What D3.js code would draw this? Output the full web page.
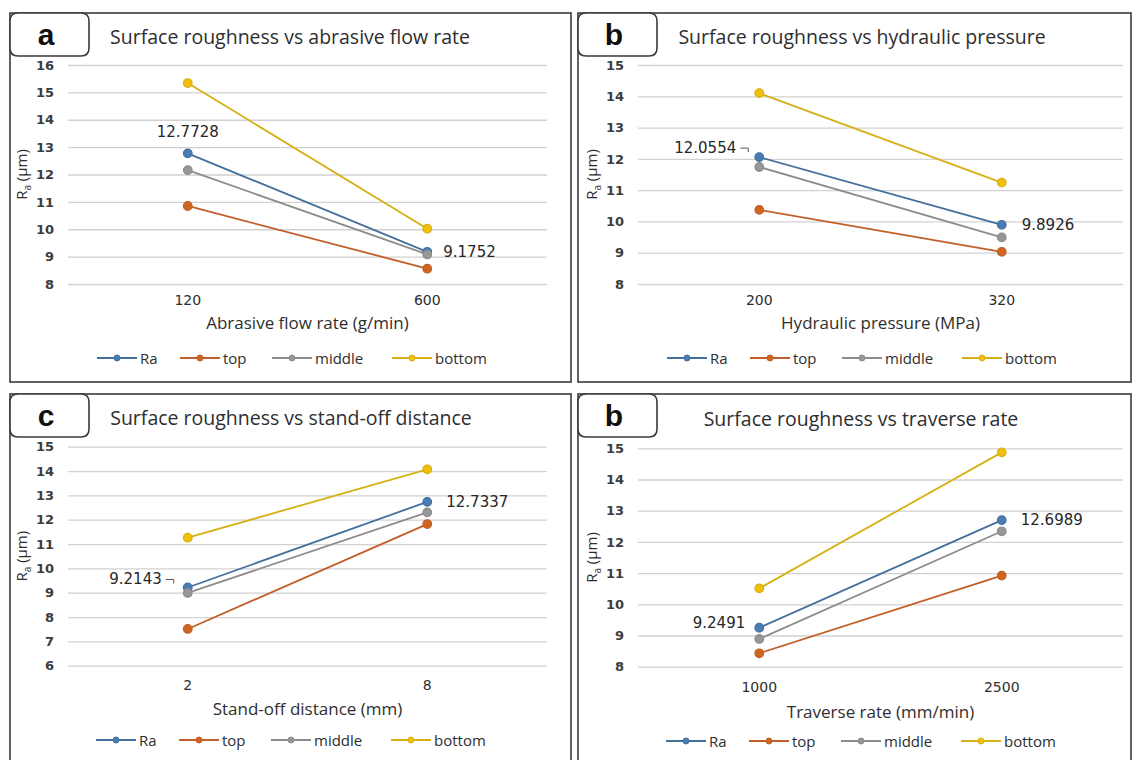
<!DOCTYPE html>
<html>
<head>
<meta charset="utf-8">
<script src="https://cdn.jsdelivr.net/npm/d3@7"></script>
<style>
  body { margin: 0; background: #fff; }
  svg { display: block; }
</style>
</head>
<body>
<svg id="fig" width="1134" height="760"></svg>
<script>
// ---- series ----
const seriesNames = ["Ra", "top", "middle", "bottom"];
const seriesLine = ["#44709d", "#c25e27", "#8c8c8c", "#d6b014"];
const seriesFill = ["#4a7db3", "#d0651f", "#979797", "#f0c00a"];

// (a) abrasive flow rate
const flowCats = ["120", "600"];
const flowRa = [12.7728, 9.1752];
const flowTop = [10.85, 8.56];
const flowMiddle = [12.16, 9.08];
const flowBottom = [15.34, 10.02];
const flowTicks = [8, 9, 10, 11, 12, 13, 14, 15, 16];

// (b) hydraulic pressure
const pressureCats = ["200", "320"];
const pressureRa = [12.0554, 9.8926];
const pressureTop = [10.37, 9.03];
const pressureMiddle = [11.74, 9.49];
const pressureBottom = [14.10, 11.24];
const pressureTicks = [8, 9, 10, 11, 12, 13, 14, 15];

// (c) stand-off distance
const standoffCats = ["2", "8"];
const standoffRa = [9.2143, 12.7337];
const standoffTop = [7.51, 11.82];
const standoffMiddle = [8.99, 12.30];
const standoffBottom = [11.26, 14.07];
const standoffTicks = [6, 7, 8, 9, 10, 11, 12, 13, 14, 15];

// (d) traverse rate
const traverseCats = ["1000", "2500"];
const traverseRa = [9.2491, 12.6989];
const traverseTop = [8.43, 10.92];
const traverseMiddle = [8.89, 12.34];
const traverseBottom = [10.51, 14.87];
const traverseTicks = [8, 9, 10, 11, 12, 13, 14, 15];

const panelLetters = ["a", "b", "c", "b"];
const panelTitles = [
  "Surface roughness vs abrasive flow rate",
  "Surface roughness vs hydraulic pressure",
  "Surface roughness vs stand-off distance",
  "Surface roughness vs traverse rate"
];
const xTitles = [
  "Abrasive flow rate (g/min)",
  "Hydraulic pressure (MPa)",
  "Stand-off distance (mm)",
  "Traverse rate (mm/min)"
];

const panels = [
  { cats: flowCats, series: [flowRa, flowTop, flowMiddle, flowBottom], ticks: flowTicks },
  { cats: pressureCats, series: [pressureRa, pressureTop, pressureMiddle, pressureBottom], ticks: pressureTicks },
  { cats: standoffCats, series: [standoffRa, standoffTop, standoffMiddle, standoffBottom], ticks: standoffTicks },
  { cats: traverseCats, series: [traverseRa, traverseTop, traverseMiddle, traverseBottom], ticks: traverseTicks }
];

// ---- layout of each panel (page pixels) ----
const layouts = [
  { fx: 10, fy: 13, fw: 561, fh: 369, x0: 68, x1: 547, y0: 65, y1: 284,
    tickY: 305, axisTitleY: 329, legendY: 358, legendX: 97, titleX: 290, titleY: 44,
    labels: [{ pos: "above", dx: 0, dy: -16 }, { pos: "right", dx: 16, dy: 0 }] },
  { fx: 578, fy: 13, fw: 553, fh: 369, x0: 638, x1: 1123, y0: 65, y1: 284,
    tickY: 305, axisTitleY: 329, legendY: 358, legendX: 667, titleX: 862, titleY: 44,
    labels: [{ pos: "left", dx: -17, dy: -9, leader: true }, { pos: "right", dx: 20, dy: 0 }] },
  { fx: 10, fy: 394, fw: 561, fh: 380, x0: 68, x1: 547, y0: 446.7, y1: 665.7,
    tickY: 690, axisTitleY: 715, legendY: 740, legendX: 96, titleX: 291, titleY: 425,
    labels: [{ pos: "left", dx: -20, dy: -8, leader: true }, { pos: "right", dx: 19, dy: 0 }] },
  { fx: 578, fy: 394, fw: 553, fh: 380, x0: 638, x1: 1123, y0: 448.3, y1: 666.7,
    tickY: 692, axisTitleY: 718, legendY: 741, legendX: 666, titleX: 861, titleY: 426,
    labels: [{ pos: "left", dx: -14, dy: -5 }, { pos: "right", dx: 19, dy: 0 }] }
];
const legendOffsets = [0, 83, 175, 295];

const svg = d3.select("#fig");
svg.append("rect").attr("width", 1134).attr("height", 760).attr("fill", "#fff");

const SANS = "'Open Sans', 'DejaVu Sans', sans-serif";
const WIDE = "'DejaVu Sans', sans-serif";

function roundedBox(x, y, w, h, r) {
  return `M${x + r},${y} H${x + w - r} Q${x + w},${y} ${x + w},${y + r} V${y + h - r} Q${x + w},${y + h} ${x + w - r},${y + h} H${x + r} Q${x},${y + h} ${x},${y + h - r} V${y + r} Q${x},${y} ${x + r},${y} Z`;
}

panels.forEach((p, i) => {
  const L = layouts[i];
  const g = svg.append("g");

  // outer frame
  g.append("rect")
    .attr("x", L.fx).attr("y", L.fy).attr("width", L.fw).attr("height", L.fh)
    .attr("fill", "none").attr("stroke", "#3a3a3a").attr("stroke-width", 1.6);

  const x = d3.scalePoint().domain(p.cats).range([L.x0, L.x1]).padding(0.5);
  const y = d3.scaleLinear().domain(d3.extent(p.ticks)).range([L.y1, L.y0]);

  // horizontal gridlines with y tick labels
  const yAxis = g.append("g")
    .attr("transform", `translate(${L.x0},0)`)
    .call(d3.axisLeft(y).tickValues(p.ticks).tickSize(-(L.x1 - L.x0)).tickPadding(14).tickFormat(d3.format("d")));
  yAxis.select(".domain").remove();
  yAxis.selectAll(".tick line").attr("stroke", "#d2d2d2").attr("stroke-width", 1.3);
  yAxis.selectAll(".tick text")
    .attr("font-family", WIDE).attr("font-size", 13).attr("font-weight", "bold").attr("fill", "#3c3c3c");

  // x category labels
  g.selectAll(".xcat").data(p.cats).enter().append("text")
    .attr("x", d => x(d)).attr("y", L.tickY)
    .attr("text-anchor", "middle")
    .attr("font-family", WIDE).attr("font-size", 14).attr("fill", "#2e2e2e")
    .text(d => d);

  // x axis title
  g.append("text")
    .attr("x", (L.x0 + L.x1) / 2).attr("y", L.axisTitleY)
    .attr("text-anchor", "middle")
    .attr("font-family", SANS).attr("font-size", 17).attr("fill", "#2e2e2e")
    .text(xTitles[i]);

  // y axis title: R_a (µm)
  const yl = g.append("text")
    .attr("transform", `translate(${L.x0 - 41},${(L.y0 + L.y1) / 2}) rotate(-90)`)
    .attr("text-anchor", "middle")
    .attr("font-family", SANS).attr("font-size", 15).attr("fill", "#2e2e2e");
  yl.append("tspan").text("R");
  yl.append("tspan").attr("font-size", 10).attr("dy", 4).text("a");
  yl.append("tspan").attr("dy", -4).text(" (µm)");

  // chart title
  g.append("text")
    .attr("x", L.titleX).attr("y", L.titleY)
    .attr("text-anchor", "middle")
    .attr("font-family", SANS).attr("font-size", 19.5).attr("fill", "#2e2e2e")
    .text(panelTitles[i]);

  // panel letter box
  g.append("path")
    .attr("d", roundedBox(L.fx, L.fy, 79, 43, 8))
    .attr("fill", "#fff").attr("stroke", "#3a3a3a").attr("stroke-width", 1.6);
  g.append("text")
    .attr("x", L.fx + 36).attr("y", L.fy + 32)
    .attr("text-anchor", "middle")
    .attr("font-family", "'Liberation Sans', Arial, sans-serif").attr("font-size", 30).attr("font-weight", "bold")
    .attr("fill", "#111")
    .text(panelLetters[i]);

  // series lines and markers
  const line = d3.line().x((d, j) => x(p.cats[j])).y(d => y(d));
  p.series.forEach((vals, s) => {
    g.append("path")
      .attr("d", line(vals))
      .attr("fill", "none").attr("stroke", seriesLine[s]).attr("stroke-width", 1.8);
  });
  p.series.forEach((vals, s) => {
    g.selectAll(null).data(vals).enter().append("circle")
      .attr("cx", (d, j) => x(p.cats[j])).attr("cy", d => y(d))
      .attr("r", 4.3)
      .attr("fill", seriesFill[s]).attr("stroke", seriesLine[s]).attr("stroke-width", 1.2);
  });

  // Ra value labels
  const ra = p.series[0];
  ra.forEach((v, j) => {
    const spec = L.labels[j];
    const px = x(p.cats[j]), py = y(v);
    const t = g.append("text")
      .attr("font-family", WIDE).attr("font-size", 15).attr("fill", "#262626")
      .attr("dominant-baseline", "central")
      .text(String(v));
    if (spec.pos === "above") {
      t.attr("x", px + spec.dx).attr("y", py + spec.dy - 5).attr("text-anchor", "middle");
    } else if (spec.pos === "left") {
      t.attr("x", px + spec.dx - (spec.leader ? 6 : 0)).attr("y", py + spec.dy).attr("text-anchor", "end");
      if (spec.leader) {
        const lx = px + spec.dx - 2;
        g.append("path")
          .attr("d", `M${lx},${py + spec.dy} H${lx + 8} V${py + spec.dy + 4}`)
          .attr("fill", "none").attr("stroke", "#555").attr("stroke-width", 1);
      }
    } else {
      t.attr("x", px + spec.dx).attr("y", py + spec.dy).attr("text-anchor", "start");
    }
  });

  // legend
  seriesNames.forEach((name, s) => {
    const lx = L.legendX + legendOffsets[s];
    g.append("line")
      .attr("x1", lx).attr("x2", lx + 40).attr("y1", L.legendY).attr("y2", L.legendY)
      .attr("stroke", seriesLine[s]).attr("stroke-width", 1.8);
    g.append("circle")
      .attr("cx", lx + 20).attr("cy", L.legendY).attr("r", 3)
      .attr("fill", seriesFill[s]).attr("stroke", seriesLine[s]).attr("stroke-width", 1);
    g.append("text")
      .attr("x", lx + 43).attr("y", L.legendY)
      .attr("dominant-baseline", "central")
      .attr("font-family", SANS).attr("font-size", 15).attr("fill", "#2e2e2e")
      .text(name);
  });
});
</script>
</body>
</html>
